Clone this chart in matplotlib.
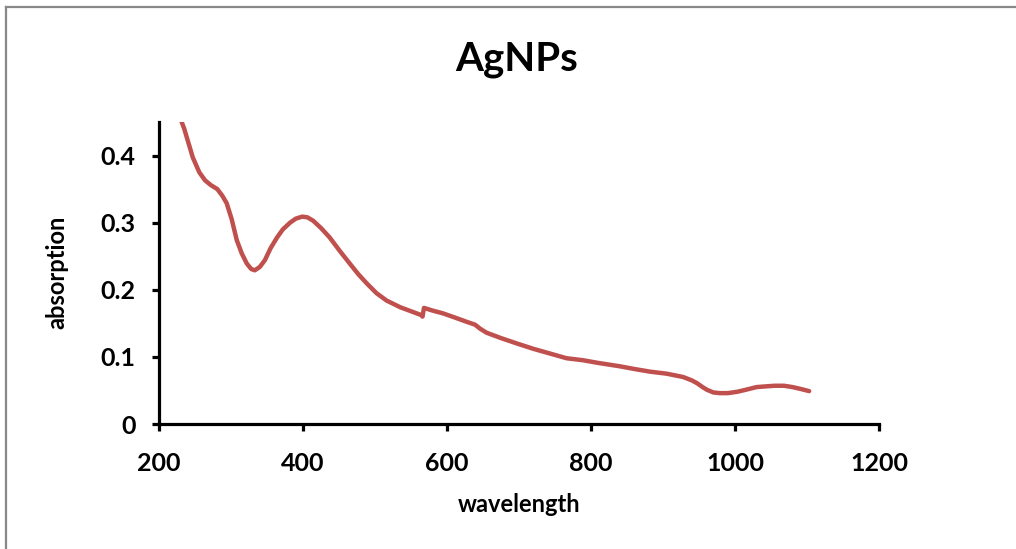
import matplotlib
matplotlib.use("Agg")
import matplotlib.pyplot as plt
from matplotlib.lines import Line2D

plt.rcParams['font.family'] = ['Lato', 'DejaVu Sans']

title = "AgNPs"
x_label = "wavelength"
y_label = "absorption"
x_ticks = [200, 400, 600, 800, 1000, 1200]
y_ticks = [0, 0.1, 0.2, 0.3, 0.4]
y_tick_labels = ["0", "0.1", "0.2", "0.3", "0.4"]

wavelength = [228, 235, 247, 256, 264, 272, 281, 288, 294, 301, 308, 315, 322, 328,
              333, 340, 347, 355, 364, 372, 382, 390, 399, 406, 414, 425, 437, 451,
              465, 477, 489, 502, 516, 535, 550, 565, 566, 568, 580, 594, 610, 628,
              639, 646, 655, 675, 697, 720, 743, 766, 789, 810, 840, 860, 882, 905,
              928, 940, 947, 955, 961, 970, 979, 990, 1003, 1015, 1030, 1042, 1055,
              1068, 1080, 1092, 1103]
absorption = [0.46, 0.44, 0.397, 0.375, 0.363, 0.356, 0.350, 0.340, 0.329, 0.305,
              0.274, 0.254, 0.239, 0.231, 0.229, 0.234, 0.244, 0.262, 0.278, 0.290,
              0.300, 0.306, 0.309, 0.308, 0.303, 0.292, 0.278, 0.258, 0.239, 0.223,
              0.209, 0.195, 0.184, 0.174, 0.168, 0.162, 0.160, 0.173, 0.169, 0.165,
              0.159, 0.152, 0.148, 0.142, 0.136, 0.128, 0.120, 0.112, 0.105, 0.098,
              0.095, 0.091, 0.086, 0.082, 0.078, 0.075, 0.070, 0.065, 0.061, 0.055,
              0.051, 0.047, 0.046, 0.046, 0.048, 0.051, 0.055, 0.056, 0.057, 0.057,
              0.055, 0.052, 0.049]

W, H = 1016, 549
fig = plt.figure(figsize=(W / 100, H / 100), dpi=100)
fig.patch.set_facecolor("white")

# chart frame (gray border at left and top)
fig.add_artist(Line2D([6 / W, 6 / W], [0, 1 - 7 / H], color="#888888", lw=1.6,
                      transform=fig.transFigure))
fig.add_artist(Line2D([6 / W, 1], [1 - 7 / H, 1 - 7 / H], color="#888888", lw=1.6,
                      transform=fig.transFigure))

ax = fig.add_axes([159 / W, 1 - 424 / H, (879 - 159) / W, (424 - 122) / H])
ax.plot(wavelength, absorption, color="#C0504D", lw=3.2,
        solid_joinstyle="round", solid_capstyle="round")

ax.set_xlim(200, 1200)
ax.set_ylim(0, 0.45)
ax.set_xticks(x_ticks)
ax.set_yticks(y_ticks)
ax.set_yticklabels(y_tick_labels)

for s in ["top", "right"]:
    ax.spines[s].set_visible(False)
for s in ["left", "bottom"]:
    ax.spines[s].set_linewidth(2.3)
    ax.spines[s].set_color("black")

ax.tick_params(axis="both", direction="out", length=5, width=2.3, colors="black",
               labelsize=18)
ax.tick_params(axis="x", pad=15)
ax.tick_params(axis="y", pad=12)
for lab in ax.get_xticklabels() + ax.get_yticklabels():
    lab.set_fontweight("bold")

xl = ax.set_xlabel(x_label, fontsize=17, fontweight="bold")
yl = ax.set_ylabel(y_label, fontsize=17, fontweight="bold")
xl.set_va("center")
yl.set_va("center")
ax.xaxis.set_label_coords((519 - 159) / 720, (424 - 505) / 302)
ax.yaxis.set_label_coords((57 - 159) / 720, (424 - 272) / 302)

fig.text(517 / W, 1 - 60 / H, title, fontsize=29, fontweight="bold",
         ha="center", va="center")

fig.savefig("out.png", dpi=100, facecolor="white")
